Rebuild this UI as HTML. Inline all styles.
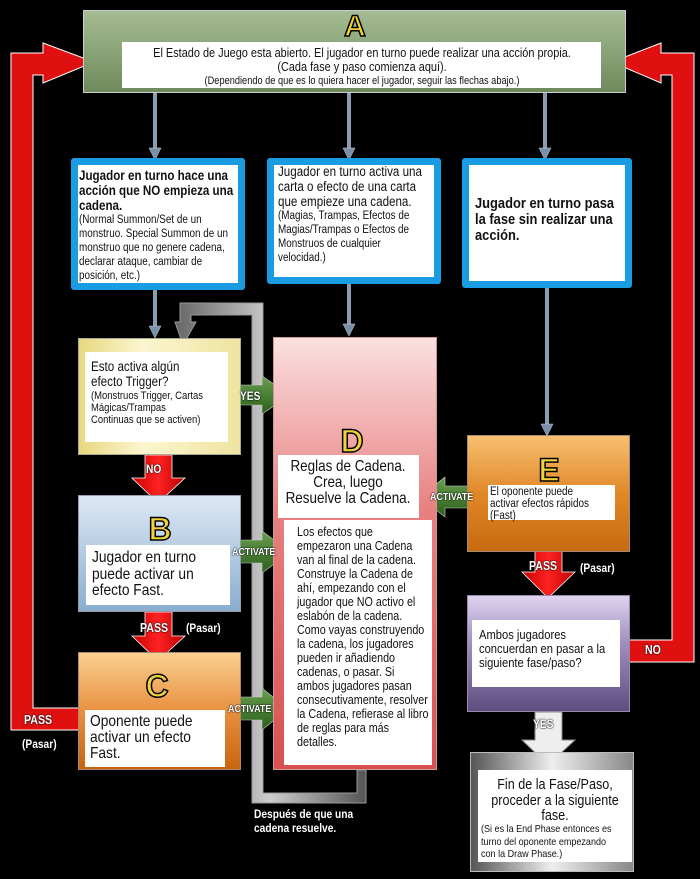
<!DOCTYPE html>
<html><head><meta charset="utf-8"><style>
body{margin:0;background:#000;width:700px;height:879px;position:relative;overflow:hidden;font-family:"Liberation Sans",sans-serif;}
.abs{position:absolute;box-sizing:border-box;}
.w{position:absolute;background:#fff;color:#111;box-sizing:border-box;overflow:hidden}
.L{position:absolute;font-weight:bold;font-size:32px;color:#f2d23a;-webkit-text-stroke:1.5px #000;text-align:center;line-height:1;}
.lab{position:absolute;color:#fff;font-weight:bold;font-size:11px;text-shadow:0 0 2px #000,0 0 1px #000;transform:scaleX(.85);transform-origin:left top}
.t{position:absolute;white-space:nowrap;transform:scaleX(.86);transform-origin:left top;color:#111}
.tc{position:absolute;white-space:nowrap;transform:scaleX(.84);transform-origin:center top;color:#111;text-align:center}
</style></head><body>
<svg class="abs" style="left:0;top:0" width="700" height="879">
<defs>
<linearGradient id="gr" x1="0" x2="1"><stop offset="0" stop-color="#666"/><stop offset=".5" stop-color="#ccc"/><stop offset="1" stop-color="#555"/></linearGradient>
<linearGradient id="rd" x1="0" x2="1"><stop offset="0" stop-color="#c00"/><stop offset=".5" stop-color="#f22"/><stop offset="1" stop-color="#b00"/></linearGradient>
<linearGradient id="gn" x1="0" y1="0" x2="0" y2="1"><stop offset="0" stop-color="#6aa050"/><stop offset="1" stop-color="#2a5e1a"/></linearGradient>
</defs>
<path d="M11 730 L11 53 L43 53 L43 43 L94 62 L43 83 L43 75 L33 75 L33 708 L80 708 L80 730 Z" fill="#e01010" stroke="#fff" stroke-width="1"/>
<path d="M694 662 L694 53 L661 53 L661 43 L612 62 L661 83 L661 75 L672 75 L672 640 L622 640 L622 662 Z" fill="#e01010" stroke="#fff" stroke-width="1"/>
<g stroke="#8a9cb0" stroke-width="4">
<line x1="155" y1="93" x2="155" y2="150"/><line x1="349" y1="93" x2="349" y2="150"/><line x1="545" y1="93" x2="545" y2="150"/>
<line x1="155" y1="290" x2="155" y2="328"/><line x1="349" y1="284" x2="349" y2="326"/><line x1="547" y1="288" x2="547" y2="426"/>
</g>
<g fill="#7890a8" stroke="#ccd" stroke-width=".5">
<polygon points="149,148 161,148 155,160"/><polygon points="343,148 355,148 349,160"/><polygon points="539,148 551,148 545,160"/>
<polygon points="149,326 161,326 155,338"/><polygon points="343,324 355,324 349,336"/><polygon points="541,424 553,424 547,436"/>
</g>
<path d="M183 345 L175 322 L180 322 L180 303 L263 303 L263 793 L357 793 L357 770 L366 770 L366 803 L252 803 L252 315 L191 315 L191 322 L196 322 Z" fill="url(#gr)" stroke="#999" stroke-width="1"/>
<path d="M145 455 L172 455 L172 478 L185 478 L158 503 L132 478 L145 478 Z" fill="url(#rd)" stroke="#fff" stroke-width=".8"/>
<path d="M145 612 L172 612 L172 636 L185 636 L158 661 L132 636 L145 636 Z" fill="url(#rd)" stroke="#fff" stroke-width=".8"/>
<path d="M535 549 L562 549 L562 572 L575 572 L548 598 L522 572 L535 572 Z" fill="url(#rd)" stroke="#fff" stroke-width=".8"/>
<path d="M535 712 L562 712 L562 740 L575 740 L548 765 L522 740 L535 740 Z" fill="#eee" stroke="#888" stroke-width="1"/>
<path d="M229 385 L262 385 L262 376 L290 395 L262 414 L262 405 L229 405 Z" fill="url(#gn)" stroke="#ccc" stroke-width=".6"/>
<path d="M229 540 L262 540 L262 531 L290 552 L262 573 L262 563 L229 563 Z" fill="url(#gn)" stroke="#ccc" stroke-width=".6"/>
<path d="M226 697 L262 697 L262 688 L288 709 L262 730 L262 720 L226 720 Z" fill="url(#gn)" stroke="#ccc" stroke-width=".6"/>
<path d="M480 486 L445 486 L445 477 L420 497 L445 517 L445 508 L480 508 Z" fill="url(#gn)" stroke="#ccc" stroke-width=".6"/>
</svg>

<div class="abs" style="left:83px;top:10px;width:543px;height:83px;background:linear-gradient(#a6bc94,#6e8a5c);border:1px solid #ccc"></div>
<div class="L" style="left:330px;top:12px;width:50px;font-size:30px">A</div>
<div class="w" style="left:122px;top:42px;width:479px;height:46px"></div>
<div class="tc" style="left:62px;top:45px;width:600px;font-size:13px;line-height:15px">El Estado de Juego esta abierto. El jugador en turno puede realizar una acción propia.</div>
<div class="tc" style="left:62px;top:59px;width:600px;font-size:13px;line-height:15px">(Cada fase y paso comienza aquí).</div>
<div class="tc" style="left:62px;top:75px;width:600px;font-size:11px;line-height:13px">(Dependiendo de que es lo quiera hacer el jugador, seguir las flechas abajo.)</div>

<div class="w" style="left:71px;top:158px;width:174px;height:132px;border:7px solid #1a9ce2;border-radius:3px"></div>
<div class="t" style="left:79px;top:168px;font-size:13.5px;line-height:15px;font-weight:bold">Jugador en turno hace una<br>acción que NO empieza una<br>cadena.</div>
<div class="t" style="left:79px;top:213px;font-size:11.5px;line-height:14px">(Normal Summon/Set de un<br>monstruo. Special Summon de un<br>monstruo que no genere cadena,<br>declarar ataque, cambiar de<br>posición, etc.)</div>

<div class="w" style="left:267px;top:158px;width:174px;height:126px;border:7px solid #1a9ce2;border-radius:3px"></div>
<div class="t" style="left:278px;top:164px;font-size:13.5px;line-height:15px">Jugador en turno activa una<br>carta o efecto de una carta<br>que empieze una cadena.</div>
<div class="t" style="left:278px;top:209px;font-size:11.5px;line-height:14px">(Magias, Trampas, Efectos de<br>Magias/Trampas o Efectos de<br>Monstruos de cualquier<br>velocidad.)</div>

<div class="w" style="left:462px;top:158px;width:170px;height:130px;border:7px solid #1a9ce2;border-radius:3px"></div>
<div class="t" style="left:475px;top:196px;font-size:15px;line-height:16px;font-weight:bold">Jugador en turno pasa<br>la fase sin realizar una<br>acción.</div>

<div class="abs" style="left:78px;top:338px;width:163px;height:117px;background:linear-gradient(90deg,#e8d880,#fbf6d0 40%,#efe3a0);border:1px solid #aa9"></div>
<div class="w" style="left:85px;top:352px;width:143px;height:90px"></div>
<div class="t" style="left:91px;top:359px;font-size:13.5px;line-height:15px">Esto activa algún<br>efecto Trigger?</div>
<div class="t" style="left:91px;top:390px;font-size:11px;line-height:12px">(Monstruos Trigger, Cartas<br>Mágicas/Trampas<br>Continuas que se activen)</div>

<div class="abs" style="left:78px;top:495px;width:163px;height:117px;background:linear-gradient(#dde8f4,#8aaed0);border:1px solid #99a"></div>
<div class="L" style="left:135px;top:513px;width:50px">B</div>
<div class="w" style="left:86px;top:545px;width:144px;height:60px"></div>
<div class="t" style="left:92px;top:550px;font-size:16px;line-height:16.5px">Jugador en turno<br>puede activar un<br>efecto Fast.</div>

<div class="abs" style="left:78px;top:652px;width:163px;height:118px;background:linear-gradient(#fad090,#e89040 50%,#c86410);border:1px solid #a87"></div>
<div class="L" style="left:132px;top:670px;width:50px">C</div>
<div class="w" style="left:85px;top:710px;width:140px;height:57px"></div>
<div class="t" style="left:90px;top:714px;font-size:16px;line-height:16px">Oponente puede<br>activar un efecto<br>Fast.</div>

<div class="abs" style="left:273px;top:337px;width:164px;height:433px;background:linear-gradient(#fbe0e0,#e88080 40%,#d85050);border:1px solid #c99"></div>
<div class="L" style="left:327px;top:425px;width:50px">D</div>
<div class="w" style="left:278px;top:455px;width:141px;height:63px"></div>
<div class="tc" style="left:248px;top:459px;width:200px;font-size:16px;line-height:16px">Reglas de Cadena.<br>Crea, luego<br>Resuelve la Cadena.</div>
<div class="w" style="left:284px;top:520px;width:148px;height:245px"></div>
<div class="t" style="left:297px;top:525px;font-size:12.5px;line-height:14px">Los efectos que<br>empezaron una Cadena<br>van al final de la cadena.<br>Construye la Cadena de<br>ahí, empezando con el<br>jugador que NO activo el<br>eslabón de la cadena.<br>Como vayas construyendo<br>la cadena, los jugadores<br>pueden ir añadiendo<br>cadenas, o pasar. Si<br>ambos jugadores pasan<br>consecutivamente, resolver<br>la Cadena, refierase al libro<br>de reglas para más<br>detalles.</div>

<div class="abs" style="left:467px;top:435px;width:163px;height:117px;background:linear-gradient(#f8c070,#e08828 50%,#c86a10);border:1px solid #a87"></div>
<div class="L" style="left:524px;top:454px;width:50px">E</div>
<div class="w" style="left:488px;top:485px;width:127px;height:35px"></div>
<div class="t" style="left:490px;top:486px;font-size:11.5px;line-height:12px">El oponente puede<br>activar efectos rápidos<br>(Fast)</div>

<div class="abs" style="left:467px;top:595px;width:163px;height:117px;background:linear-gradient(#e0d4f0,#a090c0 40%,#5e4e80);border:1px solid #98a"></div>
<div class="w" style="left:472px;top:620px;width:148px;height:67px"></div>
<div class="t" style="left:479px;top:628px;font-size:13px;line-height:14px">Ambos jugadores<br>concuerdan en pasar a la<br>siguiente fase/paso?</div>

<div class="abs" style="left:470px;top:752px;width:164px;height:120px;background:linear-gradient(90deg,#555,#eee 50%,#888);border:1px solid #bbb"></div>
<div class="w" style="left:478px;top:770px;width:154px;height:92px"></div>
<div class="tc" style="left:455px;top:777px;width:200px;font-size:15px;line-height:15.5px">Fin de la Fase/Paso,<br>proceder a la siguiente<br>fase.</div>
<div class="t" style="left:481px;top:823px;font-size:10.5px;line-height:12.5px">(Si es la End Phase entonces es<br>turno del oponente empezando<br>con la Draw Phase.)</div>

<div class="lab" style="left:240px;top:389px;font-size:12px">YES</div>
<div class="lab" style="left:146px;top:462px;font-size:12px">NO</div>
<div class="lab" style="left:232px;top:546px;font-size:10.5px">ACTIVATE</div>
<div class="lab" style="left:140px;top:621px;font-size:12.5px">PASS</div>
<div class="lab" style="left:186px;top:621px;font-size:12px">(Pasar)</div>
<div class="lab" style="left:228px;top:703px;font-size:10.5px">ACTIVATE</div>
<div class="lab" style="left:430px;top:491px;font-size:10.5px">ACTIVATE</div>
<div class="lab" style="left:529px;top:559px;font-size:12.5px">PASS</div>
<div class="lab" style="left:580px;top:561px;font-size:12px">(Pasar)</div>
<div class="lab" style="left:533px;top:717px;font-size:12px">YES</div>
<div class="lab" style="left:645px;top:643px;font-size:12.5px">NO</div>
<div class="lab" style="left:24px;top:713px;font-size:12.5px">PASS</div>
<div class="lab" style="left:22px;top:737px;font-size:12px">(Pasar)</div>
<div class="lab" style="left:254px;top:807px;font-size:12px;line-height:14px">Después de que una<br>cadena resuelve.</div>
</body></html>
